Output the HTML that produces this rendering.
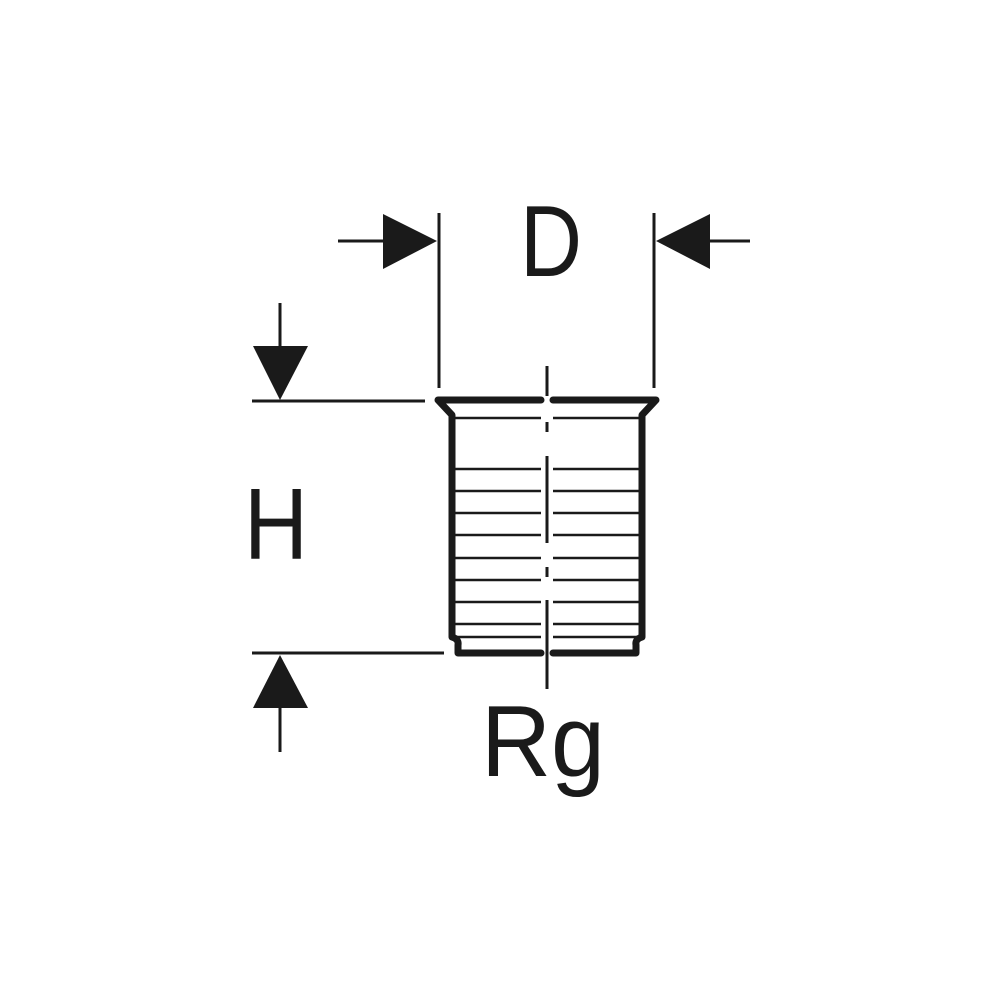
<!DOCTYPE html>
<html><head><style>body{margin:0;background:#fff}svg{display:block}</style></head><body>
<svg width="1000" height="1000" viewBox="0 0 1000 1000" xmlns="http://www.w3.org/2000/svg">
<rect width="1000" height="1000" fill="#fff"/>
<g stroke="#1a1a1a" fill="none" stroke-width="3">
<line x1="439" y1="213" x2="439" y2="388"/>
<line x1="654" y1="213" x2="654" y2="388"/>
<line x1="338" y1="241" x2="385" y2="241"/>
<line x1="708" y1="241" x2="750" y2="241"/>
<line x1="280" y1="303" x2="280" y2="348"/>
<line x1="252" y1="401" x2="425" y2="401"/>
<line x1="252" y1="653" x2="444" y2="653"/>
<line x1="280" y1="706" x2="280" y2="752"/>
</g>
<g fill="#1a1a1a">
<polygon points="383,214 383,269 437,241"/>
<polygon points="710,214 710,269 656,241"/>
<polygon points="253,346 308,346 280,400"/>
<polygon points="253,708 308,708 280,655"/>
</g>
<g stroke="#1a1a1a" fill="none" stroke-linejoin="round" stroke-linecap="round">
<path d="M541,400 H438 L452,415 V637 Q459,639 458,645 V653 H541" stroke-width="7"/>
<path d="M553,400 H656 L642,415 V637 Q635,639 636,645 V653 H553" stroke-width="7"/>
</g>
<g stroke="#1a1a1a" stroke-width="2.5">
<line x1="455" y1="418" x2="541" y2="418"/><line x1="553" y1="418" x2="639" y2="418"/>
<line x1="455" y1="469" x2="541" y2="469"/><line x1="553" y1="469" x2="639" y2="469"/>
<line x1="455" y1="491" x2="541" y2="491"/><line x1="553" y1="491" x2="639" y2="491"/>
<line x1="455" y1="513" x2="541" y2="513"/><line x1="553" y1="513" x2="639" y2="513"/>
<line x1="455" y1="535" x2="541" y2="535"/><line x1="553" y1="535" x2="639" y2="535"/>
<line x1="455" y1="558" x2="541" y2="558"/><line x1="553" y1="558" x2="639" y2="558"/>
<line x1="455" y1="580" x2="541" y2="580"/><line x1="553" y1="580" x2="639" y2="580"/>
<line x1="455" y1="602" x2="541" y2="602"/><line x1="553" y1="602" x2="639" y2="602"/>
<line x1="455" y1="624" x2="541" y2="624"/><line x1="553" y1="624" x2="639" y2="624"/>
<line x1="455" y1="637" x2="541" y2="637"/><line x1="553" y1="637" x2="639" y2="637"/>
</g>
<g stroke="#1a1a1a" stroke-width="3">
<line x1="547" y1="366" x2="547" y2="396"/>
<line x1="547" y1="422" x2="547" y2="432"/>
<line x1="547" y1="456" x2="547" y2="543"/>
<line x1="547" y1="567" x2="547" y2="577"/>
<line x1="547" y1="600" x2="547" y2="689"/>
</g>
<g font-family="Liberation Sans, sans-serif" fill="#1a1a1a">
<text x="520" y="276" font-size="101" textLength="62" lengthAdjust="spacingAndGlyphs">D</text>
<text x="244" y="559" font-size="101" textLength="64" lengthAdjust="spacingAndGlyphs">H</text>
<text x="481" y="776" font-size="101" textLength="124" lengthAdjust="spacingAndGlyphs">Rg</text>
</g>
</svg>
</body></html>
